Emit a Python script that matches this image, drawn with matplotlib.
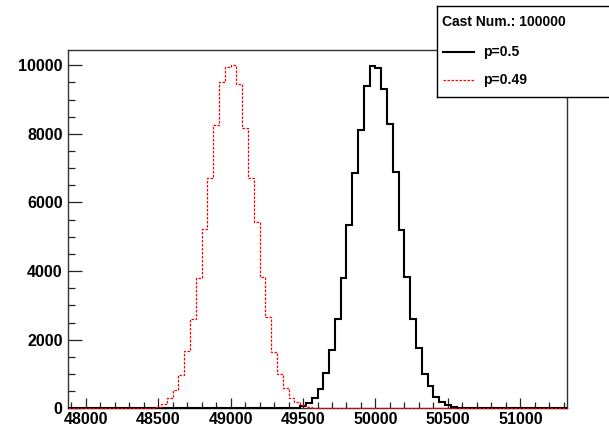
import numpy as np
import matplotlib
matplotlib.use('Agg')
import matplotlib.pyplot as plt
from matplotlib.ticker import MultipleLocator

plt.rcParams['font.family'] = 'Liberation Sans'
plt.rcParams['font.weight'] = 'bold'

# histogram binning (40 per bin)
bin_width = 40
x_lo, x_hi = 47880, 51320

# p = 0.5, bins start at 49400
black_start = 49400
black_counts = [5, 18, 67, 163, 292, 554, 1020, 1700, 2603, 3790, 5335, 6851,
                8122, 9405, 9980, 9913, 9318, 8280, 6889, 5207, 3837, 2595,
                1758, 1000, 659, 338, 175, 96, 47, 18, 6]

# p = 0.49, bins start at 48400
red_start = 48400
red_counts = [3, 15, 47, 134, 309, 534, 980, 1680, 2603, 3790, 5227, 6723,
              8260, 9504, 9960, 10018, 9463, 8163, 6723, 5423, 3837, 2653,
              1650, 1000, 590, 309, 185, 96, 40, 15, 5]

legend_title = 'Cast Num.: 100000'
labels = ['p=0.5', 'p=0.49']

edges = np.arange(x_lo, x_hi + 1, bin_width)
nbins = len(edges) - 1


def fill(start, counts):
    h = np.zeros(nbins)
    i0 = (start - x_lo) // bin_width
    h[i0:i0 + len(counts)] = counts
    return h


h_black = fill(black_start, black_counts)
h_red = fill(red_start, red_counts)

W, H = 609, 426
fig = plt.figure(figsize=(W / 100, H / 100), dpi=100)
ax = fig.add_axes([68.3 / W, 1 - 408.3 / H, (566.7 - 68.3) / W, (408.3 - 50) / H])

black_style = dict(color='black', linewidth=1.5)
red_style = dict(color='red', linewidth=0.9, linestyle=(0, (2, 1.2)))

ax.stairs(h_black, edges, zorder=3, clip_on=False, **black_style)
ax.stairs(h_red, edges, zorder=4, clip_on=False, **red_style)

ax.set_xlim(x_lo, x_hi)
ax.set_ylim(0, 10446)
ax.xaxis.set_major_locator(MultipleLocator(500))
ax.xaxis.set_minor_locator(MultipleLocator(100))
ax.yaxis.set_major_locator(MultipleLocator(2000))
ax.yaxis.set_minor_locator(MultipleLocator(500))
ax.tick_params(which='both', direction='in', top=False, right=False,
               labelsize=11.5, width=0.9, color='#222222')
ax.tick_params(axis='y', which='major', length=10, pad=4)
ax.tick_params(axis='y', which='minor', length=5)
ax.tick_params(axis='x', which='major', length=7, pad=3)
ax.tick_params(axis='x', which='minor', length=4)
for s in ax.spines.values():
    s.set_linewidth(1.0)
    s.set_color('#333333')
for lab in ax.get_xticklabels() + ax.get_yticklabels():
    lab.set_fontweight('bold')

# legend box in pixel coordinates
lg = fig.add_axes([437 / W, 1 - 97 / H, (612 - 437) / W, 91 / H], zorder=10)
lg.set_xlim(437, 612)
lg.set_ylim(97, 6)
lg.set_xticks([])
lg.set_yticks([])
for s in lg.spines.values():
    s.set_linewidth(1.0)
    s.set_color('black')
lg.text(442, 22, legend_title, fontsize=10, fontweight='bold', va='center', ha='left')
for yy, lab, st in zip([51.7, 80], labels, [black_style, red_style]):
    lg.plot([443, 474], [yy, yy], **st)
    lg.text(483, yy, lab, fontsize=10, fontweight='bold', va='center', ha='left')

fig.savefig('out.png', dpi=100)
